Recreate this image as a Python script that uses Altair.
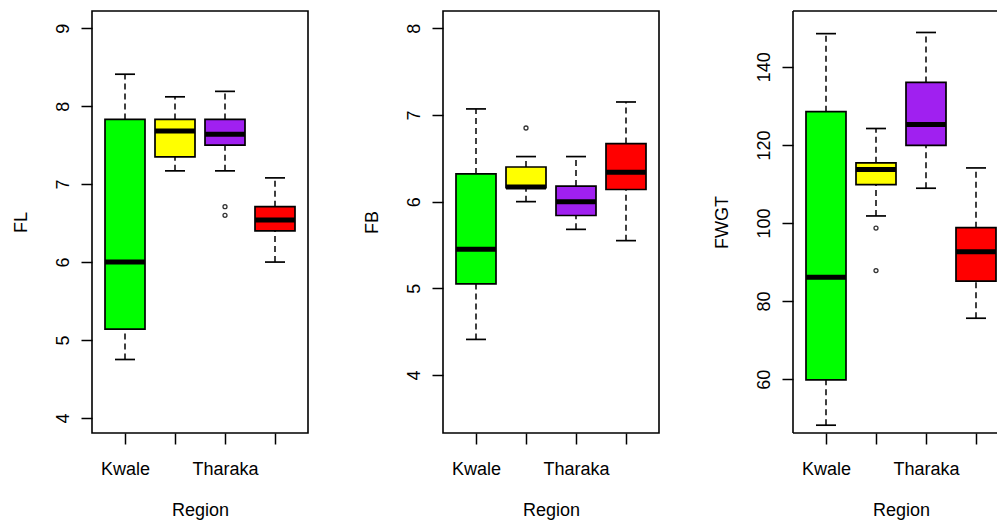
import json

import altair as alt
import pandas as pd

# Regions on the x axis (every second label is skipped, as base R does on crowded axes)
regions = ["Kwale", "Machakos", "Tharaka", "Turkana"]
shown_labels = ["Kwale", "Tharaka"]
box_colors = ["#00FF00", "#FFFF00", "#A020F0", "#FF0000"]

# FL: five-number summaries per region
fl_lower = [4.75, 7.17, 7.17, 6.00]
fl_q1 = [5.14, 7.35, 7.50, 6.40]
fl_median = [6.00, 7.68, 7.64, 6.54]
fl_q3 = [7.83, 7.83, 7.83, 6.71]
fl_upper = [8.41, 8.12, 8.19, 7.08]
fl_out_region = ["Tharaka", "Tharaka"]
fl_out_value = [6.71, 6.60]

# FB
fb_lower = [4.41, 6.00, 5.68, 5.55]
fb_q1 = [5.05, 6.16, 5.84, 6.14]
fb_median = [5.45, 6.17, 6.00, 6.34]
fb_q3 = [6.32, 6.40, 6.18, 6.67]
fb_upper = [7.07, 6.52, 6.52, 7.15]
fb_out_region = ["Machakos"]
fb_out_value = [6.85]

# FWGT
fw_lower = [48.2, 101.8, 108.9, 75.6]
fw_q1 = [59.8, 109.8, 119.9, 85.1]
fw_median = [86.1, 113.7, 125.2, 92.6]
fw_q3 = [128.5, 115.4, 136.0, 98.8]
fw_upper = [148.5, 124.2, 148.8, 114.1]
fw_out_region = ["Machakos", "Machakos"]
fw_out_value = [98.7, 87.8]

FONT = "Liberation Sans"
PANEL_W = 216
PANEL_H = 422
LAST_W = 204          # the right-hand panel runs off the page edge
X_RANGE = [33, 183]   # box centres, 50 px apart
BOX_W = 40
CAP_W = 20

label_expr = (
    "indexof(" + json.dumps(shown_labels) + ", datum.value) >= 0 ? datum.value : ''"
)


def panel(name, lower, q1, median, q3, upper, out_region, out_value, domain, ticks,
          width=PANEL_W, open_right=False):
    stats = pd.DataFrame(
        {
            "Region": regions,
            "lower": lower,
            "q1": q1,
            "median": median,
            "q3": q3,
            "upper": upper,
        }
    )
    outliers = pd.DataFrame({"Region": out_region, "value": out_value})

    x = alt.X(
        "Region:N",
        sort=regions,
        scale=alt.Scale(type="point", range=X_RANGE, padding=0),
        axis=alt.Axis(
            title="Region",
            labelExpr=label_expr,
            labelAngle=0,
            labelPadding=16,
            titlePadding=23,
            titleX=PANEL_W / 2,
        ),
    )
    yscale = alt.Scale(domain=domain, nice=False, zero=False)
    yaxis = alt.Axis(
        title=name,
        values=ticks,
        format="d",
        labelAngle=-90,
        labelAlign="center",
        labelBaseline="bottom",
        labelPadding=9,
        titlePadding=24,
    )

    base = alt.Chart(stats)
    dash = [6, 4]
    whisk_hi = base.mark_rule(color="black", strokeWidth=1.5, strokeDash=dash).encode(
        x=x, y=alt.Y("q3:Q", scale=yscale, axis=yaxis), y2="upper:Q"
    )
    whisk_lo = base.mark_rule(color="black", strokeWidth=1.5, strokeDash=dash).encode(
        x=x, y=alt.Y("lower:Q", scale=yscale), y2="q1:Q"
    )
    cap_hi = base.mark_tick(color="black", opacity=1, size=CAP_W, thickness=1.7).encode(
        x=x, y=alt.Y("upper:Q", scale=yscale)
    )
    cap_lo = base.mark_tick(color="black", opacity=1, size=CAP_W, thickness=1.7).encode(
        x=x, y=alt.Y("lower:Q", scale=yscale)
    )
    box = base.mark_bar(size=BOX_W, stroke="black", strokeWidth=1.7, opacity=1).encode(
        x=x,
        y=alt.Y("q1:Q", scale=yscale),
        y2="q3:Q",
        color=alt.Color(
            "Region:N",
            scale=alt.Scale(domain=regions, range=box_colors),
            legend=None,
        ),
    )
    med = base.mark_tick(color="black", opacity=1, size=BOX_W, thickness=5).encode(
        x=x, y=alt.Y("median:Q", scale=yscale)
    )
    pts = (
        alt.Chart(outliers)
        .mark_point(shape="circle", size=16, filled=False, color="#333333",
                    strokeWidth=1.3, opacity=1)
        .encode(x=x, y=alt.Y("value:Q", scale=yscale))
    )
    layers = [whisk_hi, whisk_lo, cap_hi, cap_lo, box, med, pts]
    props = {"width": width, "height": PANEL_H}
    if open_right:
        # frame drawn on three sides only; the right side lies past the page edge
        edge = alt.Chart(pd.DataFrame({"frame": [0]}))
        rule = dict(color="black", strokeWidth=1.6)
        layers += [
            edge.mark_rule(**rule).encode(
                x=alt.value(0), y=alt.value(0), y2=alt.value(PANEL_H)),
            edge.mark_rule(**rule).encode(
                x=alt.value(0), x2=alt.value(width), y=alt.value(0)),
            edge.mark_rule(**rule).encode(
                x=alt.value(0), x2=alt.value(width), y=alt.value(PANEL_H)),
        ]
        props["view"] = alt.ViewBackground(strokeWidth=0, stroke="transparent")
    return alt.layer(*layers).properties(**props)


p1 = panel("FL", fl_lower, fl_q1, fl_median, fl_q3, fl_upper,
           fl_out_region, fl_out_value, [3.807, 9.221], [4, 5, 6, 7, 8, 9])
p2 = panel("FB", fb_lower, fb_q1, fb_median, fb_q3, fb_upper,
           fb_out_region, fb_out_value, [3.33, 8.2], [4, 5, 6, 7, 8])
p3 = panel("FWGT", fw_lower, fw_q1, fw_median, fw_q3, fw_upper,
           fw_out_region, fw_out_value, [46.2, 154.3], [60, 80, 100, 120, 140],
           width=LAST_W, open_right=True)

chart = (
    alt.hconcat(p1, p2, p3, spacing=53)
    .properties(padding={"left": 11, "top": 10, "right": 0, "bottom": 0}, background="white")
    .configure_view(stroke="black", strokeWidth=1.6)
    .configure_axis(
        labelFont=FONT,
        titleFont=FONT,
        labelFontSize=18,
        titleFontSize=18,
        titleFontWeight="normal",
        labelColor="black",
        titleColor="black",
        tickColor="black",
        tickWidth=1.5,
        tickSize=11,
        domain=False,
        grid=False,
    )
)

chart.save("out.html", embed_options={"renderer": "svg", "actions": False})
